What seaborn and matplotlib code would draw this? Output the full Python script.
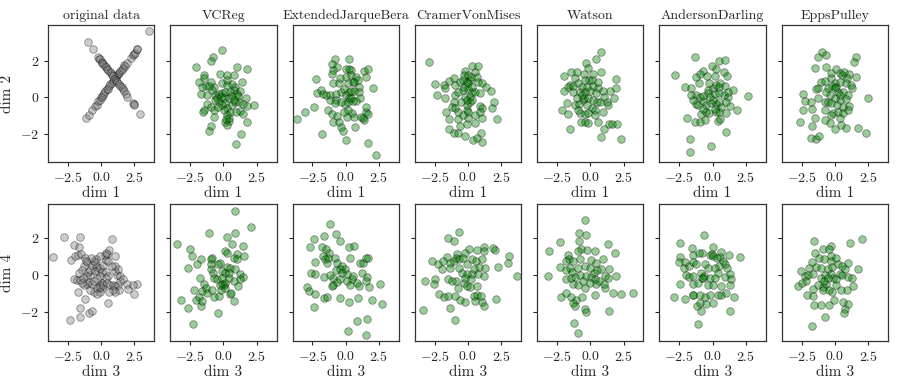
import pandas as pd
import seaborn as sns
import matplotlib.pyplot as plt

# panel titles
methods = ["VCReg", "ExtendedJarqueBera", "CramerVonMises", "Watson",
           "AndersonDarling", "EppsPulley"]

# original data, dim 1 vs dim 2 (the X shape)
orig_12 = [
    (-1.12, -1.14), (-0.94, -0.96), (-0.69, -0.68), (-0.45, -0.47), (-0.32, -0.41),
    (-0.25, -0.22), (-0.12, -0.14), (0.0, 0.02), (0.05, 0.05), (0.15, 0.13),
    (0.22, 0.26), (0.3, 0.33), (0.42, 0.45), (0.5, 0.48), (0.62, 0.63),
    (0.7, 0.72), (0.79, 0.78), (0.92, 0.92), (1.04, 1.05), (1.1, 1.12),
    (1.22, 1.23), (1.3, 1.28), (1.36, 1.36), (1.45, 1.47), (1.54, 1.51),
    (1.66, 1.6), (1.75, 1.76), (1.81, 1.74), (1.91, 1.87), (2.28, 2.15),
    (2.41, 2.33), (2.45, 2.4), (2.53, 2.42), (2.66, 2.66), (2.7, 2.68), (3.6, 3.64),
    (-1.02, 3.02), (-0.62, 2.64), (-0.2, 2.2), (-0.15, 2.12), (-0.07, 2.09),
    (0.05, 1.96), (0.1, 1.9), (0.17, 1.84), (0.28, 1.75), (0.37, 1.69),
    (0.45, 1.57), (0.55, 1.51), (0.63, 1.4), (0.72, 1.36), (0.8, 1.25),
    (0.92, 1.18), (1.0, 1.02), (1.1, 0.95), (1.22, 0.87), (1.36, 0.74),
    (1.45, 0.62), (1.54, 0.56), (1.62, 0.44), (1.71, 0.37), (1.86, 0.19),
    (1.96, 0.05), (2.41, -0.32), (2.45, -0.38), (2.48, -0.41), (2.95, -0.92),
]

# original data, dim 3 vs dim 4
orig_34 = [
    (-3.62, 0.96), (-2.8, 2.05), (-2.26, 0.78), (-2.01, 1.64), (-1.64, 1.51),
    (-1.56, 2.04), (-1.94, 1.04), (-1.74, 1.09), (-1.49, 1.13), (-1.19, 0.91),
    (-1.07, 0.67), (-1.32, 0.49), (-1.44, 0.27), (-1.69, 0.09), (-2.01, -0.22),
    (-1.81, -0.27), (-1.56, -0.27), (-1.36, -0.15), (-1.07, -0.09), (-0.87, 0.0),
    (-1.02, 0.15), (-0.82, 0.27), (-0.69, 0.55), (-0.45, 0.64), (-0.32, 0.45),
    (-0.5, 0.18), (-0.27, 0.22), (-0.07, 0.36), (0.05, 0.15), (-0.12, -0.05),
    (0.17, 0.55), (0.37, 0.82), (0.47, 1.13), (0.62, 1.36), (0.84, 1.95),
    (1.04, 1.0), (0.37, 0.13), (0.55, -0.09), (0.37, -0.18), (0.05, -0.45),
    (-0.12, -0.58), (-0.32, -0.73), (-0.52, -0.91), (-0.82, -0.82), (-1.07, -0.51),
    (-1.32, -0.58), (-0.94, -0.4), (-0.69, -0.51), (-1.76, -0.91), (-1.22, -1.31),
    (-1.56, -1.82), (-1.56, -2.29), (-2.31, -2.45), (-0.94, -2.09), (-0.67, -1.95),
    (0.05, -0.73), (-0.12, -0.96), (-0.32, -1.04), (-0.07, -0.64), (0.17, -0.58),
    (0.42, -0.45), (0.67, -0.55), (0.87, -0.55), (1.04, -0.6), (1.29, -0.55),
    (1.41, -0.36), (1.22, 0.0), (1.04, 0.22), (1.29, 0.33), (1.04, 0.49),
    (0.79, 0.49), (0.55, 0.76), (0.3, 1.09), (0.37, 1.18), (-0.07, 1.0),
    (-0.37, 0.87), (-0.57, 0.73), (-0.77, 0.91), (-1.12, 0.73), (1.41, -0.04),
    (1.61, -0.22), (1.91, -0.51), (2.03, -0.76), (2.46, -1.05), (2.66, -0.51),
    (2.36, -0.55), (1.36, -0.82), (1.04, -0.91), (0.5, -1.55), (0.87, -0.82),
    (0.62, -0.91), (-0.32, -0.24), (-0.52, -0.33), (-1.44, -0.45),
]

# embeddings, dim 1 vs dim 2
vcreg_12 = [
    (-0.1, 2.6), (-0.79, 2.23), (-0.97, 2.0), (-2.08, 1.65), (-1.46, 1.23),
    (-1.46, 1.05), (1.02, 1.65), (1.81, 1.54), (-0.27, 1.29), (0.27, 1.23),
    (0.82, 1.23), (-1.84, 0.87), (-1.34, 0.63), (-0.92, 0.87), (-0.72, 0.59),
    (-0.1, 0.78), (0.27, 0.68), (0.65, 0.72), (0.89, 0.59), (1.27, 0.36),
    (-1.71, 0.17), (-1.22, 0.14), (-0.6, 0.14), (-0.35, 0.17), (-0.1, 0.23),
    (0.15, 0.28), (0.52, 0.28), (0.77, 0.41), (1.02, 0.17), (1.71, -0.01),
    (-0.47, -0.05), (-0.22, 0.05), (0.02, -0.01), (0.4, -0.05), (0.65, 0.08),
    (1.14, -0.26), (1.46, -0.37), (1.81, -0.45), (2.31, -0.41), (-1.22, -0.37),
    (-0.97, -0.5), (-1.46, -0.68), (-1.51, -0.78), (-0.35, -0.26), (0.15, -0.32),
    (0.27, -0.59), (0.52, -0.78), (0.97, -0.81), (1.27, -0.74), (1.46, -0.92),
    (1.76, -1.32), (-0.72, -1.05), (0.15, -1.32), (0.4, -1.29), (0.27, -1.51),
    (-0.92, -1.56), (-1.09, -1.84), (1.32, -2.02), (0.97, -2.57), (-0.6, -0.14),
    (-0.1, -0.41), (0.02, -0.68), (0.27, -0.96), (0.45, -1.1), (0.22, -1.18),
    (0.65, -0.41), (0.89, -0.23), (-0.84, 0.41), (-1.09, 0.65), (0.27, 0.96),
    (1.39, 0.87), (1.07, 0.08), (-0.72, -0.68), (-0.42, -0.5), (0.77, -0.14),
    (-1.59, 0.59),
]
jarque_12 = [
    (-0.84, 2.09), (0.27, 2.09), (-1.02, 1.82), (-0.65, 1.65), (0.02, 1.56),
    (0.27, 1.54), (0.4, 1.5), (1.39, 1.45), (1.71, 1.56), (-0.97, 1.5),
    (-1.02, 1.27), (0.02, 1.14), (0.4, 1.23), (0.77, 1.14), (1.51, 1.14),
    (-2.21, 1.01), (-0.97, 0.78), (-0.47, 0.78), (0.15, 0.78), (0.52, 0.87),
    (0.97, 0.59), (2.06, 0.54), (-1.84, 0.41), (-2.13, 0.23), (-1.71, 0.17),
    (-1.22, 0.14), (-0.72, 0.17), (-0.35, 0.28), (-0.1, 0.47), (0.27, 0.32),
    (0.65, 0.36), (1.02, 0.28), (-1.22, -0.14), (-0.72, -0.14), (-0.84, -0.32),
    (0.02, 0.14), (0.22, -0.01), (0.4, -0.05), (0.52, -0.19), (0.15, -0.26),
    (-0.02, -0.37), (-0.35, -0.26), (-2.41, -0.54), (-3.08, -0.81), (-3.7, -1.18),
    (-1.34, -0.68), (-1.02, -0.92), (-0.67, -1.0), (-0.97, -1.36), (-0.47, -1.32),
    (-0.35, -1.6), (-0.22, -1.84), (0.07, -1.05), (0.45, -0.87), (0.65, -1.05),
    (0.72, -1.6), (1.14, -1.05), (1.39, -1.23), (1.27, -1.1), (1.56, -0.81),
    (1.71, -0.92), (1.51, -0.5), (1.07, -0.05), (-0.1, -0.78), (0.15, -0.68),
    (-1.76, -2.0), (0.02, -2.33), (1.64, -2.47), (2.26, -3.15), (-1.46, 0.14),
    (-0.42, 1.05), (0.65, 0.87), (0.89, 0.96), (0.4, 0.36), (0.77, -0.19),
]
cramer_12 = [
    (-2.9, 1.93), (0.27, 1.74), (0.72, 1.73), (-0.22, 1.45), (-0.27, 1.23),
    (0.02, 1.23), (0.52, 1.42), (0.65, 1.14), (-1.02, 1.09), (-1.46, 0.9),
    (-2.51, 0.72), (-1.84, 0.68), (-1.71, 0.54), (-0.97, 0.68), (-0.6, 0.87),
    (-0.35, 0.96), (-0.1, 0.87), (0.15, 0.96), (0.77, 0.87), (1.02, 0.78),
    (1.39, 0.59), (1.71, 0.36), (-2.33, 0.14), (-1.71, -0.01), (-0.97, 0.14),
    (-0.72, 0.32), (-0.35, 0.41), (0.02, 0.47), (0.27, 0.32), (0.52, 0.28),
    (0.89, 0.23), (-0.22, 0.05), (0.15, 0.05), (-0.52, -0.26), (-1.02, -0.26),
    (-1.22, -0.5), (-0.1, -0.41), (0.15, -0.26), (0.89, -0.45), (1.02, -0.56),
    (1.96, -0.23), (1.81, -0.59), (-1.66, -0.81), (-0.72, -0.81), (-0.1, -0.68),
    (0.02, -0.78), (-1.46, -1.18), (-0.72, -1.18), (0.02, -1.1), (0.52, -0.96),
    (1.09, -1.14), (2.21, -1.2), (-0.6, -1.56), (-0.1, -1.47), (0.52, -1.42),
    (-1.46, -1.74), (-1.02, -1.93), (-0.72, -1.96), (-0.22, -2.09), (0.4, -2.33),
    (0.65, -2.2), (0.97, -1.96), (1.07, -2.42), (-0.27, 0.59), (0.02, 0.78),
    (0.27, 0.59), (-0.1, -0.14), (0.27, -0.14), (0.89, -0.78), (-0.35, -0.96),
    (-0.97, -0.56), (0.22, 1.14),
]
watson_12 = [
    (0.84, 2.51), (0.42, 2.11), (-0.32, 1.87), (-0.15, 1.63), (-2.01, 1.18),
    (-1.44, 1.38), (-1.02, 1.38), (-0.47, 1.27), (0.22, 1.29), (0.77, 1.38),
    (-0.07, 0.96), (0.1, 0.96), (-1.14, 1.05), (-0.89, 0.78), (-1.51, 0.68),
    (-1.64, 0.59), (-0.65, 0.59), (-0.27, 0.59), (0.17, 0.65), (0.6, 0.5),
    (0.97, 0.36), (1.51, 0.36), (1.91, 0.5), (1.96, 1.01), (-2.01, 0.36),
    (-1.27, 0.32), (-0.77, 0.32), (-0.4, 0.28), (0.42, 0.23), (-1.02, -0.01),
    (-0.57, -0.14), (-0.47, -0.05), (-0.15, -0.05), (0.22, -0.14), (0.47, -0.26),
    (0.72, -0.26), (1.22, -0.26), (1.76, -0.01), (-1.76, -0.32), (-1.14, -0.41),
    (-0.82, -0.37), (-0.27, -0.41), (0.1, -0.59), (0.35, -0.68), (0.97, -0.78),
    (1.34, -0.41), (-2.13, -0.68), (-1.64, -0.92), (-0.77, -0.87), (-0.4, -0.92),
    (-0.15, -0.87), (0.6, -1.36), (-0.72, -1.36), (-0.4, -1.32), (-0.15, -1.42),
    (1.02, -1.73), (1.41, -1.47), (1.66, -1.47), (2.01, -1.47), (-1.56, -1.73),
    (0.84, -2.18), (2.28, -2.27), (-0.65, 0.14), (-0.02, 0.36), (0.6, 0.87),
    (-1.27, 0.65), (0.35, -0.96), (1.02, 0.05), (-0.89, -0.68), (-0.4, 0.96),
]
anderson_12 = [
    (-1.34, 2.2), (0.47, 2.0), (0.97, 2.05), (-0.02, 1.73), (0.22, 1.54),
    (-2.83, 1.23), (-0.72, 1.47), (-0.97, 1.27), (-1.22, 1.1), (-0.42, 1.2),
    (0.89, 1.42), (1.07, 1.18), (0.15, 1.2), (-1.02, 0.78), (-2.08, 0.59),
    (-1.66, 0.5), (-0.35, 0.41), (0.02, 0.5), (0.27, 0.68), (0.57, 0.78),
    (0.52, 0.59), (0.97, 0.65), (1.51, 0.41), (-1.22, 0.14), (-0.97, 0.05),
    (-0.72, 0.1), (-0.35, 0.23), (-0.17, 0.05), (0.15, 0.17), (0.52, 0.23),
    (0.89, 0.14), (1.14, 0.05), (2.63, 0.08), (-1.46, -0.14), (-1.22, -0.37),
    (-0.72, -0.19), (-0.47, -0.41), (-0.1, -0.32), (0.27, -0.37), (0.47, -0.26),
    (0.65, -0.5), (1.02, -0.26), (1.32, -0.45), (1.81, -0.68), (-0.84, -0.92),
    (-0.52, -0.78), (-0.27, -0.87), (0.22, -0.78), (0.52, -0.78), (1.02, -0.83),
    (-1.91, -1.1), (-1.34, -1.36), (-0.97, -1.36), (-0.6, -1.23), (0.4, -1.29),
    (0.57, -1.18), (1.02, -1.91), (-1.71, -2.29), (-0.15, -2.66), (-1.71, -3.0),
    (-1.09, -0.41), (0.02, -0.14), (-0.27, 0.78), (1.14, 0.32), (-0.72, -0.63),
    (0.15, -0.63), (-1.59, 0.14),
]
epps_12 = [
    (-0.97, 2.51), (-1.27, 2.24), (-0.69, 2.33), (1.59, 2.24), (1.41, 1.96),
    (-1.51, 1.63), (-0.65, 1.69), (0.1, 1.56), (0.42, 1.32), (0.52, 1.23),
    (0.72, 1.38), (-0.27, 1.32), (1.09, 1.27), (1.59, 1.14), (-0.32, 1.05),
    (0.92, 1.09), (-1.02, 0.87), (-0.72, 0.9), (-0.02, 0.78), (-0.2, 0.65),
    (0.1, 0.59), (0.42, 0.87), (0.84, 0.78), (1.22, 0.68), (1.27, 0.54),
    (-1.27, 0.54), (-1.39, 0.47), (-0.52, 0.54), (-2.43, 0.19), (-1.27, -0.05),
    (-0.65, 0.28), (0.22, 0.28), (0.6, 0.28), (0.97, 0.14), (0.84, -0.08),
    (0.35, -0.14), (2.46, -0.01), (-2.26, -0.19), (-1.76, -0.26), (-0.77, -0.26),
    (-0.52, -0.26), (-0.27, -0.32), (0.17, -0.41), (0.6, -0.5), (1.09, -0.45),
    (-2.38, -0.68), (-1.71, -0.63), (-0.77, -0.68), (-0.15, -0.87), (0.22, -0.81),
    (0.6, -0.87), (0.97, -0.68), (-0.27, -0.96), (0.35, -1.14), (-1.46, -1.14),
    (-0.77, -1.23), (-0.35, -1.42), (0.47, -1.51), (0.84, -1.69), (0.02, -1.73),
    (1.71, -1.65), (2.33, -1.93), (-2.63, -1.36), (-1.71, -1.54), (-1.81, -2.2),
    (-1.39, -2.29), (-1.19, -2.09), (-0.02, -0.05), (-0.4, 0.14), (0.42, 0.14),
    (-0.02, 0.54),
]

# embeddings, dim 3 vs dim 4
vcreg_34 = [
    (0.89, 3.47), (2.06, 2.6), (-1.09, 2.29), (0.89, 2.29), (0.27, 2.05),
    (-3.5, 1.69), (-2.51, 1.38), (-2.33, 1.02), (-1.71, 0.84), (-1.96, 0.56),
    (-2.7, 0.35), (0.65, 1.65), (1.46, 1.56), (0.15, 1.29), (0.27, 1.2),
    (1.02, 1.15), (1.51, 1.02), (-0.84, 0.93), (-0.97, 0.84), (-0.27, 0.65),
    (-0.42, 0.6), (0.77, 0.93), (1.02, 0.84), (0.27, 0.42), (0.52, 0.38),
    (0.89, 0.29), (-0.97, 0.29), (-0.77, 0.11), (-0.1, 0.2), (0.15, 0.11),
    (1.27, 0.02), (1.46, -0.13), (1.27, -0.25), (-1.76, -0.2), (-0.72, -0.16),
    (-0.47, -0.25), (-0.1, -0.16), (0.4, -0.16), (0.77, -0.35), (-1.46, -0.49),
    (-0.1, -0.49), (0.02, -0.56), (0.15, -0.44), (-2.21, -0.85), (-1.59, -0.89),
    (-1.34, -0.71), (-1.22, -0.98), (-0.72, -1.22), (-0.35, -1.16), (0.52, -1.04),
    (0.57, -0.98), (-0.22, -0.8), (-2.08, -1.35), (-1.84, -1.22), (-1.71, -1.71),
    (-3.2, -1.38), (-2.66, -1.8), (0.82, -1.44), (-0.42, -2.09), (-2.26, -2.67),
    (0.4, 0.11), (-0.97, 0.56), (-0.84, -0.8), (0.15, -0.71), (1.07, -0.62),
    (-1.59, -1.4), (-0.27, -0.53),
]
jarque_34 = [
    (-1.22, 2.78), (-1.66, 2.11), (-0.72, 2.2), (-2.41, 1.93), (-0.45, 1.84),
    (-2.66, 1.51), (-1.79, 1.51), (-1.29, 1.2), (0.27, 1.51), (0.62, 1.56),
    (-1.46, 1.38), (-1.71, 1.02), (-1.54, 0.84), (-1.36, 0.93), (-2.28, 0.69),
    (-1.41, 0.65), (-0.79, 0.93), (-0.67, 0.65), (-0.3, 0.47), (-0.05, 0.29),
    (-0.42, 0.29), (0.32, 0.93), (1.07, 0.65), (1.27, 0.65), (1.49, 0.93),
    (1.64, 0.93), (1.19, 0.11), (1.61, -0.13), (1.51, -0.31), (-2.61, 0.11),
    (-2.28, 0.05), (-1.66, -0.13), (-0.92, -0.16), (-0.67, -0.38), (-0.42, -0.25),
    (0.07, -0.35), (0.32, -0.53), (0.45, -0.25), (0.82, -0.44), (1.02, -0.62),
    (-0.92, -0.53), (-1.04, -0.62), (-2.95, -0.67), (-2.78, -0.89), (-2.28, -1.04),
    (-1.66, -1.25), (-1.41, -1.22), (-0.42, -1.25), (0.27, -1.47), (0.94, -1.25),
    (1.76, -0.67), (1.94, -1.35), (2.61, -0.49), (2.75, -1.58), (-2.36, -1.76),
    (0.82, -2.53), (1.61, -2.38), (0.2, -3.07), (1.51, -3.29), (-0.3, 0.11),
    (0.07, 0.02), (-0.72, 0.24), (-1.17, -0.02), (0.57, -0.07),
]
cramer_34 = [
    (-0.69, 2.33), (-1.49, 1.98), (-1.07, 1.84), (1.91, 1.47), (2.04, 1.35),
    (3.08, 1.02), (2.98, 0.65), (3.65, -0.04), (2.28, 0.42), (1.24, 1.51),
    (1.24, 1.29), (0.67, 1.35), (0.05, 1.38), (-0.25, 1.2), (-0.82, 1.11),
    (-0.94, 0.93), (-1.61, 0.96), (-2.73, 0.75), (-2.23, 0.56), (-1.89, 0.75),
    (-1.32, 0.65), (-1.07, 0.75), (-0.69, 0.84), (-0.4, 0.93), (0.3, 0.84),
    (0.6, 0.75), (1.04, 0.84), (0.79, 0.42), (1.29, 0.35), (0.42, 0.29),
    (-1.39, 0.38), (-1.99, 0.29), (-0.69, 0.38), (-0.45, 0.11), (-0.07, 0.02),
    (0.3, 0.05), (0.75, 0.02), (1.17, -0.07), (-1.49, -0.22), (-2.46, -0.25),
    (-3.26, -0.35), (-2.53, -0.49), (-0.94, -0.35), (-0.32, -0.44), (-0.07, -0.62),
    (0.17, -0.67), (0.67, -0.62), (-0.74, -0.71), (-2.21, -1.04), (-1.84, -1.22),
    (-1.49, -1.16), (-0.99, -1.16), (-0.57, -1.35), (-0.2, -1.47), (0.42, -1.16),
    (0.67, -1.11), (0.55, -1.4), (1.09, -1.47), (1.24, -1.71), (2.09, -1.29),
    (-1.39, -1.8), (-3.38, -1.93), (-0.99, -2.47), (-1.19, -0.31), (-0.2, -0.16),
    (0.25, -0.25), (0.99, -1.16), (-0.07, 0.6),
]
watson_34 = [
    (-0.37, 2.96), (-0.87, 2.29), (-0.3, 2.16), (-2.28, 1.8), (-3.1, 1.29),
    (-0.87, 1.84), (-0.67, 1.38), (-0.92, 1.29), (-0.22, 1.33), (0.32, 1.29),
    (1.34, 1.65), (1.89, 1.2), (-1.71, 1.07), (-1.61, 0.84), (-1.86, 0.75),
    (-1.29, 0.75), (-0.79, 0.84), (0.07, 0.78), (0.45, 0.65), (0.94, 0.84),
    (-2.28, 0.44), (-1.86, 0.24), (-1.54, 0.35), (-1.41, 0.16), (-0.92, 0.38),
    (-0.42, 0.47), (-0.05, 0.35), (0.27, 0.11), (0.52, 0.24), (0.82, 0.29),
    (1.44, 0.29), (-3.2, -0.07), (-1.86, -0.25), (-1.46, -0.2), (-1.12, -0.13),
    (-0.79, -0.02), (-0.3, -0.07), (0.07, -0.13), (0.32, -0.25), (1.12, -0.07),
    (1.32, -0.2), (1.94, -0.04), (-1.29, -0.49), (-0.92, -0.56), (-0.42, -0.71),
    (0.45, -0.49), (1.07, -0.71), (1.02, -0.49), (-2.18, -1.22), (-1.86, -0.98),
    (-1.46, -1.22), (-1.04, -1.35), (-0.62, -1.22), (0.37, -1.11), (1.71, -0.98),
    (2.29, -1.04), (3.21, -0.98), (-1.29, -1.53), (-1.17, -1.71), (-0.42, -1.84),
    (-0.3, -2.02), (1.37, -1.95), (-1.22, -2.62), (-0.92, -3.16), (-0.05, -0.44),
    (0.69, -0.31), (-0.55, -0.35),
]
anderson_34 = [
    (-0.65, 2.16), (-2.48, 1.75), (-1.56, 1.47), (-0.82, 1.2), (0.05, 1.51),
    (-2.48, 0.96), (-2.56, 0.71), (-2.06, 0.69), (-1.49, 1.07), (-1.44, 0.71),
    (-0.99, 1.2), (-0.2, 1.07), (-0.07, 1.11), (0.0, 1.02), (0.67, 1.25),
    (1.24, 1.07), (2.04, 0.96), (0.3, 0.93), (0.55, 0.96), (0.75, 0.75),
    (0.92, 0.56), (0.5, 0.47), (1.09, 0.35), (-2.18, 0.38), (-1.81, 0.47),
    (-1.24, 0.56), (-0.57, 0.56), (-0.32, 0.38), (0.17, 0.35), (-1.99, -0.02),
    (-1.74, -0.13), (-1.44, -0.07), (-0.89, 0.11), (-0.82, -0.16), (-0.65, -0.07),
    (-0.2, -0.16), (0.92, -0.13), (1.34, 0.05), (1.42, -0.25), (-2.48, -0.49),
    (-1.44, -0.49), (-0.32, -0.56), (0.05, -0.56), (0.67, -0.62), (1.29, -0.56),
    (-2.93, -1.22), (-2.06, -1.29), (-1.49, -1.11), (-1.44, -1.07), (-0.94, -1.07),
    (-0.57, -1.22), (-0.2, -1.07), (0.42, -1.07), (0.6, -1.07), (0.99, -0.98),
    (1.59, -1.2), (-1.19, -1.71), (-0.94, -1.53), (-0.5, -1.58), (0.0, -1.53),
    (-0.89, -1.98), (1.29, -1.98), (-1.12, -2.67), (-0.69, -0.16), (0.17, -0.16),
    (0.42, 0.11), (-1.07, -0.44),
]
epps_34 = [
    (-1.54, 1.84), (-0.3, 1.56), (-0.87, 1.38), (-0.42, 1.38), (1.14, 1.75),
    (2.01, 1.93), (-1.46, 1.2), (-1.17, 0.93), (-0.79, 0.84), (-0.3, 1.02),
    (-0.3, 0.75), (0.07, 0.93), (1.02, 0.65), (1.76, 0.29), (-1.71, 0.71),
    (-1.91, 0.38), (-1.41, 0.42), (-1.04, 0.38), (-0.55, 0.29), (-0.22, 0.42),
    (0.27, 0.6), (0.52, 0.47), (0.77, 0.29), (-2.53, 0.2), (-2.21, -0.07),
    (-2.03, -0.02), (-1.66, 0.02), (-1.04, -0.16), (-0.72, -0.02), (-0.3, 0.05),
    (-0.17, -0.16), (0.37, 0.05), (0.57, -0.02), (1.02, -0.13), (1.27, -0.16),
    (-2.78, -0.62), (-2.46, -0.44), (-2.16, -0.31), (-1.61, -0.75), (-1.29, -0.56),
    (-0.92, -0.67), (-0.67, -0.49), (-0.42, -0.8), (0.07, -0.56), (0.45, -0.8),
    (0.94, -0.8), (1.37, -0.62), (-2.11, -1.07), (-1.66, -1.16), (-0.92, -0.85),
    (-0.22, -0.93), (-0.05, -1.35), (0.62, -1.47), (-1.54, -1.62), (-1.04, -1.62),
    (-0.42, -1.65), (0.8, -1.84), (0.67, -2.07), (1.02, -1.58), (-0.72, -2.31),
    (-1.74, -2.8), (-0.55, -0.2), (0.07, -0.25), (-0.79, -0.35),
]

top_sets = [orig_12, vcreg_12, jarque_12, cramer_12, watson_12, anderson_12, epps_12]
bottom_sets = [orig_34, vcreg_34, jarque_34, cramer_34, watson_34, anderson_34, epps_34]
titles = ["original data"] + methods

sns.set_theme(style="ticks")
plt.rcParams["font.family"] = "serif"
plt.rcParams["font.serif"] = ["cmr10"]
plt.rcParams["mathtext.fontset"] = "cm"
plt.rcParams["axes.formatter.use_mathtext"] = True
plt.rcParams["axes.unicode_minus"] = True

fig, axes = plt.subplots(2, 7, figsize=(8.97, 3.85), dpi=100, sharey="row")
fig.subplots_adjust(left=0.0535, right=0.99, top=0.935, bottom=0.114,
                    wspace=0.15, hspace=0.31)

for row, (sets, xlab, ylab, ylim) in enumerate([
        (top_sets, "dim 1", "dim 2", (-3.53, 3.97)),
        (bottom_sets, "dim 3", "dim 4", (-3.6, 3.83))]):
    for col, pts in enumerate(sets):
        ax = axes[row, col]
        df = pd.DataFrame(pts, columns=["x", "y"])
        color = "grey" if col == 0 else "green"
        sns.scatterplot(data=df, x="x", y="y", ax=ax, color=color, alpha=0.4,
                        edgecolor="black", linewidth=0.6, s=30)
        ax.set_xlim(-4, 4)
        ax.set_ylim(*ylim)
        ax.set_xticks([-2.5, 0.0, 2.5])
        ax.set_yticks([-2, 0, 2])
        ax.tick_params(labelsize=10, length=3, width=0.8)
        ax.set_xlabel(xlab, fontsize=11, labelpad=1)
        ax.set_ylabel(ylab if col == 0 else "", fontsize=11)
        for sp in ax.spines.values():
            sp.set_color("#333333")
            sp.set_linewidth(0.9)
        if row == 0:
            ax.set_title(titles[col], fontsize=10, pad=4)

fig.savefig("out.png", dpi=100)
